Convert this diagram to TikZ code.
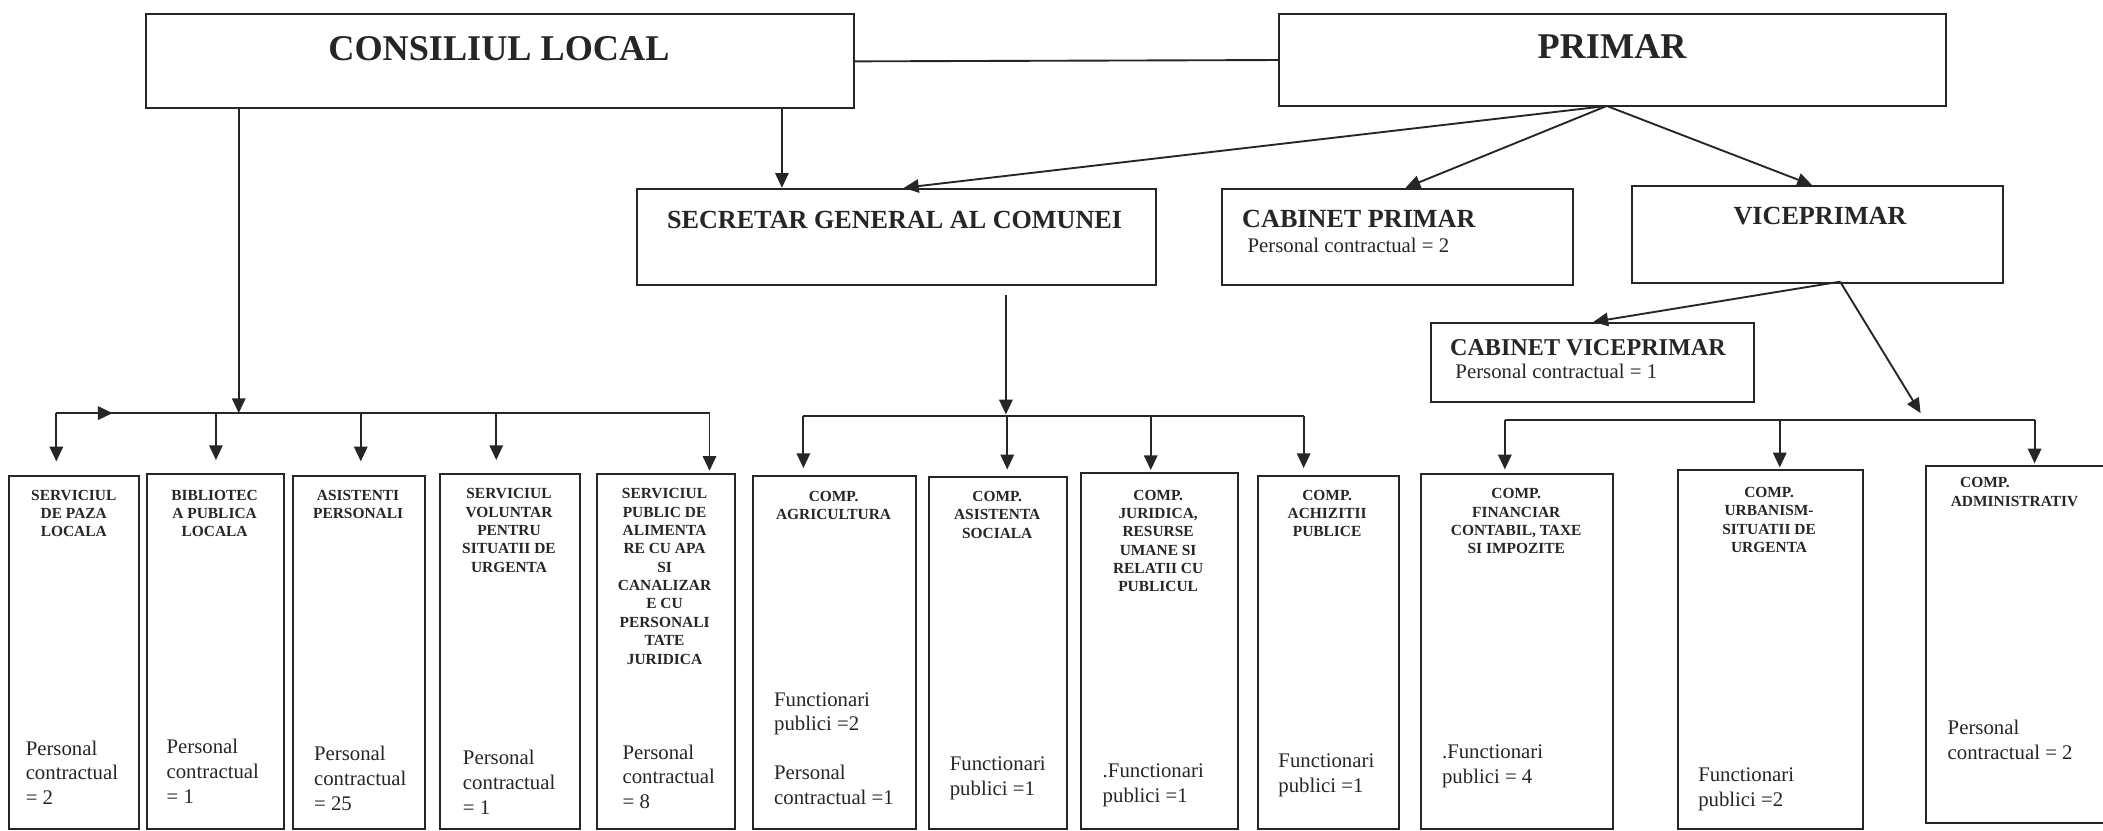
\documentclass[tikz,border=0pt]{standalone}
\usepackage{fontspec}
\setmainfont{Liberation Serif}
\usetikzlibrary{arrows.meta,calc}
\definecolor{ink}{HTML}{262626}
\begin{document}
\begin{tikzpicture}[x=1pt,y=-1pt,
  box/.style={draw=ink, line width=1.5pt, inner sep=0pt, anchor=north west},
  ttl/.style={font=\fontsize{11.5}{13.7}\selectfont\bfseries, text=ink, align=center, inner sep=0pt, anchor=north},
  num/.style={font=\fontsize{15.5}{18.5}\selectfont, text=ink, align=left, inner sep=0pt, anchor=north west},
  big/.style={font=\fontsize{27}{30}\selectfont\bfseries, text=ink, inner sep=0pt},
  mid/.style={font=\fontsize{19.5}{22}\selectfont\bfseries, text=ink, inner sep=0pt},
  sub/.style={font=\fontsize{15.5}{18}\selectfont, text=ink, inner sep=0pt, anchor=west},
  ln/.style={draw=ink, line width=1.4pt},
  arr/.style={draw=ink, line width=1.4pt, -{Triangle[length=11pt,width=10pt]}}]
\useasboundingbox (0,0) rectangle (1568,619);
\fill[white] (0,0) rectangle (1568,619);

% top boxes
\node[box, minimum width=528pt, minimum height=70pt] (CL) at (108,10) {};
\node[big] (CLt) at (372,36) {CONSILIUL LOCAL};
\node[box, minimum width=497pt, minimum height=68pt] (PR) at (953,10) {};
\node[big] (PRt) at (1202,35) {PRIMAR};

\node[box, minimum width=387pt, minimum height=72pt] (SEC) at (474,140) {};
\node[mid] (SECt) at (667,164) {SECRETAR GENERAL AL COMUNEI};
\node[box, minimum width=262pt, minimum height=72pt] (CABP) at (910,140) {};
\node[mid, anchor=west] (CABPt) at (926,163) {CABINET PRIMAR};
\node[sub] (CABPs) at (930,183) {Personal contractual = 2};
\node[box, minimum width=277pt, minimum height=72pt] (VICE) at (1216,138) {};
\node[mid] (VICEt) at (1357,161) {VICEPRIMAR};
\node[box, minimum width=241pt, minimum height=59pt] (CABV) at (1066,240) {};
\node[mid, font=\fontsize{18}{20}\selectfont\bfseries, anchor=west] (CABVt) at (1081,259) {CABINET VICEPRIMAR};
\node[sub] (CABVs) at (1085,277) {Personal contractual = 1};

% bottom boxes
\node[box, minimum width=97pt, minimum height=263pt] (b1) at (6,354) {};
\node[box, minimum width=102pt, minimum height=264pt] (b2) at (109,353) {};
\node[box, minimum width=98pt, minimum height=263pt] (b3) at (218,354) {};
\node[box, minimum width=105pt, minimum height=264pt] (b4) at (327,353) {};
\node[box, minimum width=103pt, minimum height=264pt] (b5) at (444,353) {};
\node[box, minimum width=121pt, minimum height=263pt] (b6) at (561,354) {};
\node[box, minimum width=103pt, minimum height=262pt] (b7) at (692,355) {};
\node[box, minimum width=117pt, minimum height=265pt] (b8) at (805,352) {};
\node[box, minimum width=105pt, minimum height=263pt] (b9) at (937,354) {};
\node[box, minimum width=143pt, minimum height=264pt] (b10) at (1059,353) {};
\node[box, minimum width=138pt, minimum height=267pt] (b11) at (1250,350) {};
\node[box, minimum width=145pt, minimum height=266pt] (b12) at (1435,347) {};

\node[ttl] (b1t) at (55,365) {SERVICIUL\\DE PAZA\\LOCALA};
\node[ttl] (b2t) at (160,365) {BIBLIOTEC\\A PUBLICA\\LOCALA};
\node[ttl] (b3t) at (267,365) {ASISTENTI\\PERSONALI};
\node[ttl] (b4t) at (379.5,364) {SERVICIUL\\VOLUNTAR\\PENTRU\\SITUATII DE\\URGENTA};
\node[ttl] (b5t) at (495.5,364) {SERVICIUL\\PUBLIC DE\\ALIMENTA\\RE CU APA\\SI\\CANALIZAR\\E CU\\PERSONALI\\TATE\\JURIDICA};
\node[ttl] (b6t) at (621.5,366) {COMP.\\AGRICULTURA};
\node[ttl] (b7t) at (743.5,366) {COMP.\\ASISTENTA\\SOCIALA};
\node[ttl] (b8t) at (863.5,365) {COMP.\\JURIDICA,\\RESURSE\\UMANE SI\\RELATII CU\\PUBLICUL};
\node[ttl] (b9t) at (989.5,365) {COMP.\\ACHIZITII\\PUBLICE};
\node[ttl] (b10t) at (1130.5,364) {COMP.\\FINANCIAR\\CONTABIL, TAXE\\SI IMPOZITE};
\node[ttl] (b11t) at (1319,363) {COMP.\\URBANISM-\\SITUATII DE\\URGENTA};
\node[ttl] (b12t) at (1502,356) {COMP.\hspace*{44pt}\\ADMINISTRATIV};

\node[num] (b1n) at (19,552) {Personal\\contractual\\= 2};
\node[num] (b2n) at (124,551) {Personal\\contractual\\= 1};
\node[num] (b3n) at (234,556) {Personal\\contractual\\= 25};
\node[num] (b4n) at (345,559) {Personal\\contractual\\= 1};
\node[num] (b5n) at (464,555) {Personal\\contractual\\= 8};
\node[num] (b6n) at (577,516) {Functionari\\publici =2\\[18pt]Personal\\contractual =1};
\node[num] (b7n) at (708,564) {Functionari\\publici =1};
\node[num] (b8n) at (822,569) {.Functionari\\publici =1};
\node[num] (b9n) at (953,562) {Functionari\\publici =1};
\node[num] (b10n) at (1075,555) {.Functionari\\publici = 4};
\node[num] (b11n) at (1266,572) {Functionari\\publici =2};
\node[num] (b12n) at (1452,537) {Personal\\contractual = 2};

% coordinates
\coordinate (j1) at (178,308);
\coordinate (cs) at (583,80);
\coordinate (pb) at (1198,79);
\coordinate (tSEC) at (674,140);
\coordinate (tCABP) at (1048,140);
\coordinate (tVICE) at (1351,138);
\coordinate (vb) at (1372,210);
\coordinate (tCABV) at (1188,240);
\coordinate (vr) at (1432,308);
\coordinate (s2) at (750,220);
\coordinate (j2) at (750,309);
\coordinate (b1L) at (42,308);
\coordinate (b1m) at (84,308);
\coordinate (b1R) at (529,308);
\coordinate (d12) at (161,308);
\coordinate (d13) at (269,308);
\coordinate (d14) at (370,308);
\coordinate (d15) at (529,308);
\coordinate (t15) at (529,351);
\coordinate (b2L) at (599,310);
\coordinate (b2R) at (972,310);
\coordinate (d22) at (751,310);
\coordinate (d23) at (858,310);
\coordinate (b3L) at (1122,313);
\coordinate (b3R) at (1517,313);
\coordinate (d32) at (1327,313);

% connectors
\draw[ln] (CL.east) -- (PR.west);
\draw[arr] (cs) -- (cs |- SEC.north);
\draw[arr] (CL.south -| j1) -- (j1);
\draw[arr] (pb) -- (tSEC);
\draw[arr] (pb) -- (tCABP);
\draw[arr] (pb) -- (tVICE);
\draw[arr] (vb) -- (tCABV);
\draw[arr] (vb) -- (vr);
\draw[arr] (s2) -- (j2);

\draw[ln] (b1L) -- (b1R);
\draw[arr] (b1L) -- (b1m);
\draw[arr, shorten >=10pt] (b1L) -- (b1L |- b1.north);
\draw[arr, shorten >=10pt] (d12) -- (d12 |- b2.north);
\draw[arr, shorten >=10pt] (d13) -- (d13 |- b3.north);
\draw[arr, shorten >=10pt] (d14) -- (d14 |- b4.north);
\draw[arr] (d15) -- (t15);

\draw[ln] (b2L) -- (b2R);
\draw[arr, shorten >=5pt] (b2L) -- (b2L |- b6.north);
\draw[arr, shorten >=5pt] (d22) -- (d22 |- b7.north);
\draw[arr, shorten >=1.5pt] (d23) -- (d23 |- b8.north);
\draw[arr, shorten >=5pt] (b2R) -- (b2R |- b9.north);

\draw[ln] (b3L) -- (b3R);
\draw[arr, shorten >=3pt] (b3L) -- (b3L |- b10.north);
\draw[arr, shorten >=1.5pt] (d32) -- (d32 |- b11.north);
\draw[arr, shorten >=1.5pt] (b3R) -- (b3R |- b12.north);
\end{tikzpicture}
\end{document}
